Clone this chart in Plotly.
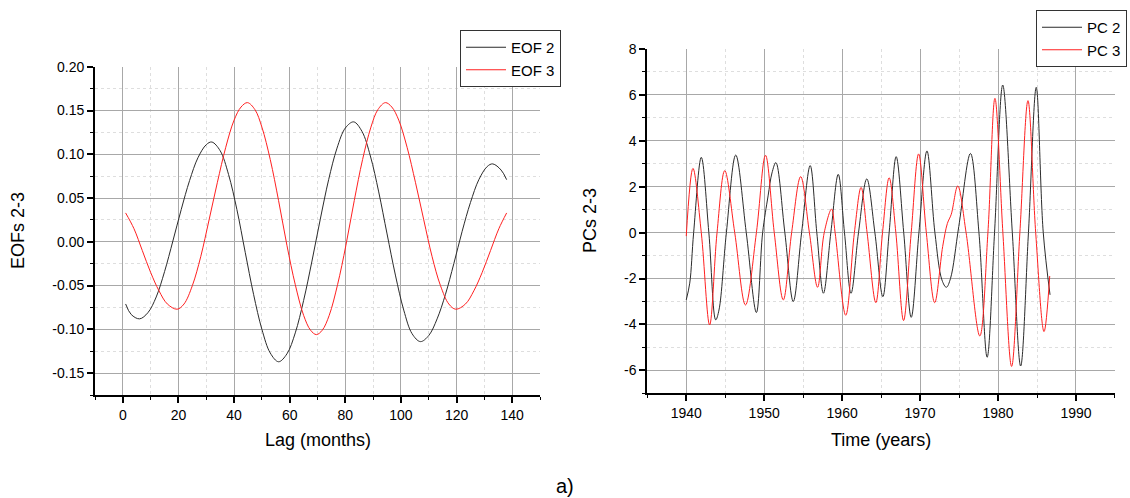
import plotly.graph_objects as go

# ---------------- data ----------------
eof2_lag = [1, 3, 6, 9, 12, 15, 18, 21, 24, 27, 30, 32, 35, 38, 41, 44, 47, 50, 53, 56,
            59, 62, 65, 68, 71, 74, 77, 80, 83, 86, 89, 92, 95, 98, 101, 104, 107,
            110, 113, 116, 119, 122, 125, 128, 131, 133, 136, 138]
eof2_val = [-0.071, -0.083, -0.088, -0.081, -0.063, -0.034, 0.001, 0.037, 0.070, 0.096,
            0.111, 0.114, 0.104, 0.077, 0.037, -0.012, -0.060, -0.100, -0.127, -0.137,
            -0.128, -0.104, -0.067, -0.022, 0.026, 0.071, 0.107, 0.130, 0.137, 0.126,
            0.098, 0.057, 0.009, -0.038, -0.078, -0.105, -0.114,
            -0.107, -0.088, -0.060, -0.025, 0.012, 0.045, 0.071, 0.086, 0.089, 0.082, 0.071]

eof3_lag = [1, 4, 7, 10, 13, 16, 19.5, 22, 25, 28, 31, 34, 37, 40, 42.5, 44.8,
            47.5, 50, 53, 56, 59, 62, 65, 67.5, 69.6, 71.7, 74.2, 77.2, 80.2, 83.2,
            86.2, 89.2, 91.7, 94.4, 96.7, 99.2, 102.2, 105.2, 108.2, 111.2, 114.2,
            117.2, 119.7, 123.2, 126.2, 129.2, 132.2, 135.2, 138]
eof3_val = [0.033, 0.015, -0.010, -0.035, -0.056, -0.071, -0.077, -0.071, -0.050, -0.017,
            0.025, 0.068, 0.108, 0.139, 0.154, 0.159,
            0.151, 0.131, 0.094, 0.047, -0.004, -0.049, -0.084, -0.101, -0.106, -0.101,
            -0.084, -0.049, -0.004, 0.047, 0.094, 0.131, 0.151, 0.159, 0.154, 0.139,
            0.108, 0.068, 0.025, -0.017, -0.050, -0.071, -0.077, -0.071, -0.056, -0.035,
            -0.010, 0.015, 0.033]

pc2_year = [1940.0, 1940.45, 1940.95, 1941.93, 1942.9, 1943.78, 1944.2, 1945.15, 1946.35,
            1947.7, 1949.0, 1949.8, 1950.5, 1951.0, 1951.5, 1952.65, 1953.73, 1954.8,
            1955.9, 1956.75, 1957.6, 1958.55, 1959.5, 1960.3, 1961.14, 1962.1, 1963.16,
            1964.2, 1965.22, 1966.03, 1966.93, 1967.9, 1968.86, 1969.85, 1970.88,
            1971.9, 1972.8, 1973.37, 1973.9, 1974.96, 1976.46, 1977.55, 1978.6,
            1979.55, 1980.6, 1981.83, 1982.9, 1983.9, 1984.9, 1985.8, 1986.67]
pc2_val = [-2.93, -2.2, 0.0, 3.28, 0.0, -3.80, -3.37, 0.0, 3.38,
           0.0, -3.48, 0.0, 1.6, 2.6, 3.05, 0.0, -3.0, 0.0,
           2.92, 0.0, -2.64, 0.0, 2.54, 0.0, -2.64, 0.0, 2.34,
           0.0, -2.79, 0.0, 3.31, 0.0, -3.69, 0.0, 3.56,
           0.0, -2.06, -2.38, -2.0, 0.26, 3.45, 0.0, -5.43,
           0.0, 6.43, 0.0, -5.81, 0.0, 6.33, 0.0, -2.71]

pc3_year = [1940.0, 1940.86, 1941.93, 1943.0, 1943.95, 1944.94, 1946.22, 1947.6, 1949.0,
            1950.17, 1951.29, 1952.45, 1953.52, 1954.68, 1955.8, 1956.85, 1957.7,
            1958.65, 1959.1, 1960.46, 1961.57, 1962.43, 1963.2, 1964.32, 1965.18,
            1966.03, 1966.89, 1967.88, 1968.86, 1969.81, 1970.8, 1971.87, 1972.9,
            1973.5, 1974.0, 1974.83, 1975.9, 1977.66, 1978.7, 1979.6, 1980.62,
            1981.74, 1982.8, 1983.84, 1984.83, 1985.9, 1986.63]
pc3_val = [-0.15, 2.80, 0.0, -4.02, 0.0, 2.70, 0.0, -3.15, 0.0,
           3.37, 0.0, -2.93, 0.0, 2.44, 0.0, -2.38, 0.0,
           1.03, 0.0, -3.6, 0.0, 1.97, 0.0, -3.05, 0.0,
           2.39, 0.0, -3.83, 0.0, 3.43, 0.0, -3.05, -0.6,
           0.4, 0.8, 2.03, 0.0, -4.5, 0.0, 5.85, 0.0,
           -5.83, 0.0, 5.75, 0.0, -4.31, -1.89]

left_xticks = [0, 20, 40, 60, 80, 100, 120, 140]
left_yticks = [0.20, 0.15, 0.10, 0.05, 0.00, -0.05, -0.10, -0.15]
left_ytext = ["0.20", "0.15", "0.10", "0.05", "0.00", "-0.05", "-0.10", "-0.15"]
right_xticks = [1940, 1950, 1960, 1970, 1980, 1990]
right_yticks = [8, 6, 4, 2, 0, -2, -4, -6]
right_ytext = ["8", "6", "4", "2", "0", "-2", "-4", "-6"]

# ---------------- figure ----------------
FONT = "Liberation Sans, Arial, sans-serif"
BLACK = "#2b2b2b"
RED = "#ff2020"

fig = go.Figure()
line_kw = dict(mode="lines", line_shape="spline")
fig.add_trace(go.Scatter(x=eof2_lag, y=eof2_val, name="EOF 2", line=dict(color=BLACK, width=1, smoothing=1.0),
                         xaxis="x", yaxis="y", legend="legend", **line_kw))
fig.add_trace(go.Scatter(x=eof3_lag, y=eof3_val, name="EOF 3", line=dict(color=RED, width=1, smoothing=1.0),
                         xaxis="x", yaxis="y", legend="legend", **line_kw))
fig.add_trace(go.Scatter(x=pc2_year, y=pc2_val, name="PC 2", line=dict(color=BLACK, width=1, smoothing=1.0),
                         xaxis="x2", yaxis="y2", legend="legend2", **line_kw))
fig.add_trace(go.Scatter(x=pc3_year, y=pc3_val, name="PC 3", line=dict(color=RED, width=1, smoothing=1.0),
                         xaxis="x2", yaxis="y2", legend="legend2", **line_kw))

GRID = "#a8a8a8"
MINORGRID = "#dedede"
axis_common = dict(showline=True, linecolor="black", linewidth=2, ticks="outside", ticklen=6,
                   tickwidth=1.5, tickcolor="black", showgrid=True, gridcolor=GRID, gridwidth=1,
                   zeroline=False, automargin=False,
                   tickfont=dict(family=FONT, size=14, color="black"))

def minor(dt):
    return dict(dtick=dt, ticklen=3, tickcolor="black", tickwidth=1, showgrid=True,
                gridcolor=MINORGRID, griddash="dot", gridwidth=1)

legend_common = dict(xanchor="right", yanchor="top", bgcolor="white",
                     bordercolor="#333", borderwidth=1, font=dict(family=FONT, size=15),
                     tracegroupgap=0, itemwidth=40)

fig.update_layout(
    width=1130, height=498,
    margin=dict(l=0, r=0, t=0, b=0, pad=0, autoexpand=False),
    paper_bgcolor="white", plot_bgcolor="white",
    font=dict(family=FONT, color="black"),
    xaxis=dict(domain=[0.0841, 0.4779], range=[-10, 150], anchor="y",
               tickmode="array", tickvals=left_xticks, minor=minor(10), **axis_common),
    yaxis=dict(domain=[0.2068, 0.866], range=[-0.175, 0.20], anchor="x",
               tickmode="array", tickvals=left_yticks, ticktext=left_ytext,
               minor=dict(minor(0.025), tick0=0), **axis_common),
    xaxis2=dict(domain=[0.5728, 0.9867], range=[1935, 1995], anchor="y2",
                tickmode="array", tickvals=right_xticks, minor=dict(minor(5), tick0=1935), **axis_common),
    yaxis2=dict(domain=[0.2102, 0.9016], range=[-7, 8], anchor="x2",
                tickmode="array", tickvals=right_yticks, ticktext=right_ytext,
                minor=dict(minor(1), tick0=0), **axis_common),
    legend=dict(x=561 / 1130, y=1 - 30 / 498, **legend_common),
    legend2=dict(x=1127 / 1130, y=1 - 10 / 498, **legend_common),
    showlegend=True,
)

ann_font = dict(family=FONT, size=18, color="black")
fig.add_annotation(text="EOFs 2-3", x=18 / 1130, y=1 - 231 / 498, xref="paper", yref="paper",
                   textangle=-90, showarrow=False, font=ann_font, xanchor="center", yanchor="middle")
fig.add_annotation(text="Lag (months)", x=318 / 1130, y=1 - 440 / 498, xref="paper", yref="paper",
                   showarrow=False, font=ann_font, xanchor="center", yanchor="middle")
fig.add_annotation(text="PCs 2-3", x=590 / 1130, y=1 - 221 / 498, xref="paper", yref="paper",
                   textangle=-90, showarrow=False, font=ann_font, xanchor="center", yanchor="middle")
fig.add_annotation(text="Time (years)", x=881 / 1130, y=1 - 440 / 498, xref="paper", yref="paper",
                   showarrow=False, font=ann_font, xanchor="center", yanchor="middle")
fig.add_annotation(text="a)", x=565 / 1130, y=1 - 486 / 498, xref="paper", yref="paper",
                   showarrow=False, font=dict(family=FONT, size=20, color="black"),
                   xanchor="center", yanchor="middle")

fig.write_html("out.html")
